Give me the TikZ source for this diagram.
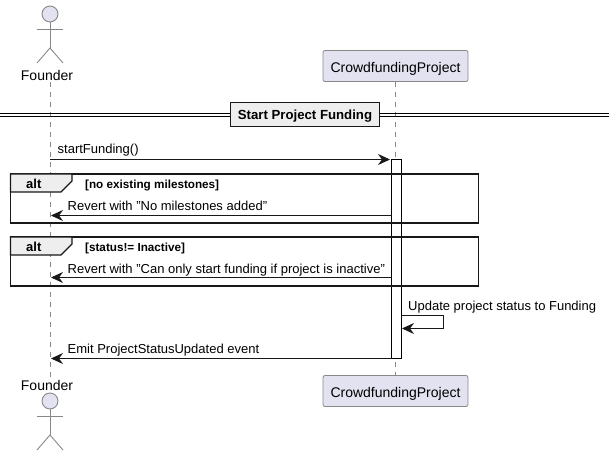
\documentclass[tikz,border=0pt]{standalone}
\usepackage{fontspec}
\setmainfont{Liberation Sans}
\usetikzlibrary{arrows.meta}

\definecolor{partfill}{HTML}{E2E2F0}
\definecolor{partline}{HTML}{888888}
\definecolor{tabfill}{HTML}{EEEEEE}
\definecolor{inkline}{HTML}{181818}

\tikzset{
    part/.style={draw=partline,fill=partfill,rounded corners=2pt,line width=0.8pt,minimum width=145pt,minimum height=31pt,inner sep=0pt,text height=13pt,text depth=0pt,font=\fontsize{14}{16}\selectfont},
    actorlabel/.style={inner sep=0pt,font=\fontsize{14}{16}\selectfont},
    actorline/.style={draw=partline,line width=0.9pt},
    life/.style={draw=partline,line width=0.8pt,dash pattern=on 5pt off 5pt},
    msg/.style={draw=inkline,line width=0.9pt,-{Stealth[length=12pt,width=11pt,inset=4pt]}},
    msgtext/.style={anchor=base west,inner sep=0pt,font=\fontsize{13}{15}\selectfont},
    altframe/.style={draw=inkline,line width=1.8pt},
    alttab/.style={draw=inkline,fill=tabfill,line width=1.2pt},
    guard/.style={anchor=base west,inner sep=0pt,font=\bfseries\fontsize{11.7}{13}\selectfont},
    alttext/.style={anchor=base west,inner sep=0pt,font=\bfseries\fontsize{13}{15}\selectfont}
}

\begin{document}
\begin{tikzpicture}[x=1pt,y=-1pt]
    \useasboundingbox (0,0) rectangle (615,457);

    % participants
    \node[actorlabel] (founderTop) at (47,75) {Founder};
    \node[actorlabel] (founderBottom) at (47,385) {Founder};
    \node[part] (projectTop) at (395.5,66) {CrowdfundingProject};
    \node[part] (projectBottom) at (395.5,391) {CrowdfundingProject};

    % actors
    \foreach \y in {14,401} {
        \draw[actorline,fill=partfill] (50,\y) circle (8);
        \draw[actorline] (50,\y+8) -- (50,\y+34);
        \draw[actorline] (37,\y+15) -- (63,\y+15);
        \draw[actorline] (37,\y+49) -- (50,\y+34) -- (63,\y+49);
    }

    % lifelines
    \coordinate (founderStart) at (50,82);
    \coordinate (founderEnd) at (50,377);
    \draw[life] (founderStart) -- (founderEnd);
    \draw[life] (projectTop.south) -- (projectBottom.north);

    % divider
    \draw[draw=black,line width=1pt] (0,113.5) -- (609,113.5);
    \draw[draw=black,line width=1pt] (0,116.5) -- (609,116.5);
    \node[draw=inkline,fill=tabfill,line width=1.8pt,minimum width=149pt,minimum height=24pt,inner sep=0pt,text height=11pt,text depth=0pt,font=\bfseries\fontsize{13.2}{15}\selectfont] (divider) at (305,114.5) {Start Project Funding};

    % activation bar
    \coordinate (barTop) at (391.5,159.5);
    \coordinate (barBottom) at (401.5,358.5);
    \draw[draw=black,fill=white,line width=0.9pt] (barTop) rectangle (barBottom);

    % alt frames
    \draw[altframe] (10.5,174) rectangle (478.5,223);
    \draw[alttab] (10.5,174) -- (72,174) -- (72,181) -- (61,192) -- (10.5,192) -- cycle;
    \node[alttext] (altOne) at (26,188.5) {alt};
    \node[guard] (guardOne) at (85,188.5) {[no existing milestones]};

    \draw[altframe] (10.5,237) rectangle (478.5,286);
    \draw[alttab] (10.5,237) -- (72,237) -- (72,244) -- (61,255) -- (10.5,255) -- cycle;
    \node[alttext] (altTwo) at (26,251.5) {alt};
    \node[guard] (guardTwo) at (85,251) {[status!= Inactive]};

    % messages
    \coordinate (startFrom) at (50,159.5);
    \coordinate (startTo) at (390,159.5);
    \coordinate (noneFrom) at (391.5,215.5);
    \coordinate (noneTo) at (51,215.5);
    \coordinate (stateFrom) at (391.5,277.5);
    \coordinate (stateTo) at (51,277.5);
    \coordinate (selfFrom) at (401.5,315.5);
    \coordinate (selfTurnA) at (443.5,315.5);
    \coordinate (selfTurnB) at (443.5,328.5);
    \coordinate (selfTo) at (402,328.5);
    \coordinate (emitFrom) at (391.5,358.5);
    \coordinate (emitTo) at (51,358.5);

    \draw[msg] (startFrom) -- (startTo);
    \draw[msg] (noneFrom) -- (noneTo);
    \draw[msg] (stateFrom) -- (stateTo);
    \draw[msg] (selfFrom) -- (selfTurnA) -- (selfTurnB) -- (selfTo);
    \draw[msg] (emitFrom) -- (emitTo);

    \node[msgtext] (startText) at (57.5,154) {startFunding()};
    \node[msgtext] (noneText) at (67.5,210) {Revert with "No milestones added"};
    \node[msgtext] (stateText) at (67.5,273) {Revert with "Can only start funding if project is inactive"};
    \node[msgtext] (selfText) at (408,310) {Update project status to Funding};
    \node[msgtext] (emitText) at (67.5,353.5) {Emit ProjectStatusUpdated event};
\end{tikzpicture}
\end{document}
